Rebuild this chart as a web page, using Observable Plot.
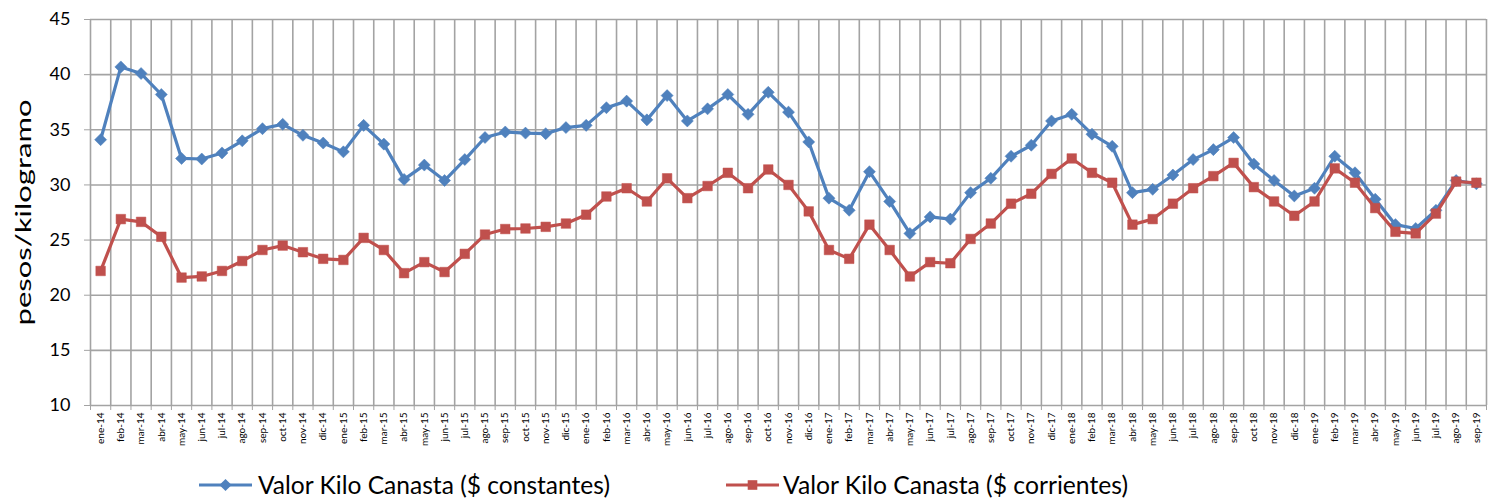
<!DOCTYPE html>
<html><head><meta charset="utf-8">
<script src="https://cdn.jsdelivr.net/npm/d3@7"></script>
<script src="https://cdn.jsdelivr.net/npm/@observablehq/plot@0.6"></script>
<style>body{margin:0;background:#fff;font-family:Lato,sans-serif}#chart svg{display:block}</style>
</head><body><div id="chart"></div><script>
const months = ["ene-14","feb-14","mar-14","abr-14","may-14","jun-14","jul-14","ago-14","sep-14","oct-14","nov-14","dic-14",
"ene-15","feb-15","mar-15","abr-15","may-15","jun-15","jul-15","ago-15","sep-15","oct-15","nov-15","dic-15",
"ene-16","feb-16","mar-16","abr-16","may-16","jun-16","jul-16","ago-16","sep-16","oct-16","nov-16","dic-16",
"ene-17","feb-17","mar-17","abr-17","may-17","jun-17","jul-17","ago-17","sep-17","oct-17","nov-17","dic-17",
"ene-18","feb-18","mar-18","abr-18","may-18","jun-18","jul-18","ago-18","sep-18","oct-18","nov-18","dic-18",
"ene-19","feb-19","mar-19","abr-19","may-19","jun-19","jul-19","ago-19","sep-19"];
const constantes = [34.1,40.7,40.1,38.2,32.4,32.35,32.9,34.0,35.1,35.5,34.5,33.8,
33.0,35.4,33.7,30.5,31.8,30.4,32.3,34.3,34.8,34.7,34.65,35.2,
35.4,37.0,37.6,35.9,38.1,35.8,36.9,38.2,36.4,38.4,36.6,33.9,
28.8,27.7,31.2,28.5,25.6,27.1,26.9,29.3,30.6,32.6,33.6,35.8,
36.4,34.6,33.5,29.3,29.6,30.9,32.3,33.2,34.3,31.9,30.4,29.0,
29.7,32.6,31.1,28.7,26.4,26.05,27.7,30.4,30.1];
const corrientes = [22.2,26.9,26.65,25.3,21.6,21.7,22.2,23.1,24.1,24.5,23.9,23.3,
23.2,25.2,24.1,22.0,23.0,22.1,23.75,25.5,26.0,26.05,26.2,26.5,
27.3,28.95,29.7,28.5,30.6,28.8,29.9,31.1,29.7,31.4,30.0,27.6,
24.1,23.3,26.4,24.1,21.7,23.0,22.9,25.1,26.5,28.3,29.2,31.0,
32.4,31.1,30.2,26.4,26.9,28.3,29.7,30.8,32.0,29.8,28.5,27.2,
28.5,31.5,30.2,27.9,25.75,25.6,27.4,30.3,30.2];
const yTicks = [10,15,20,25,30,35,40,45];
const seriesNames = ["Valor Kilo Canasta ($ constantes)","Valor Kilo Canasta ($ corrientes)"];
const colors = ["#4F81BD","#C0504D"];
const yLabel = "pesos/kilogramo";

const idx = months.map((m,i)=>i);
const boundaries = d3.range(-0.5, months.length, 1);
const dC = idx.map(i=>({i, v: constantes[i]}));
const dR = idx.map(i=>({i, v: corrientes[i]}));
const grid = "#a3a3a3";

const plot = Plot.plot({
  width: 1494, height: 458,
  marginTop: 19, marginBottom: 53, marginLeft: 90, marginRight: 8,
  style: {fontFamily: "Lato, sans-serif", background: "white", color: "#000"},
  x: {type: "linear", domain: [-0.5, months.length - 0.5]},
  y: {domain: [10, 45]},
  marks: [
    Plot.ruleY(yTicks, {stroke: grid, strokeWidth: 1.6}),
    Plot.ruleX(boundaries, {stroke: grid, strokeWidth: 1.6}),
    Plot.axisY({ticks: yTicks, tickSize: 6, tickPadding: 14, fontSize: 18, stroke: grid, label: null}),
    Plot.axisX({ticks: boundaries, tickSize: 5, tickFormat: () => "", stroke: grid, label: null}),
    Plot.axisX({ticks: idx, tickSize: 0, tickPadding: 7, tickRotate: -90, fontSize: 10, tickFormat: i => months[i], label: null}),
    Plot.text([yLabel], {frameAnchor: "left", dx: -67, rotate: -90, fontSize: 22, textAnchor: "middle", fill: "#000"}),
    Plot.line(dC, {x: "i", y: "v", stroke: colors[0], strokeWidth: 3.2}),
    Plot.dot(dC, {x: "i", y: "v", symbol: "square", r: 4.8, rotate: 45, fill: colors[0], stroke: colors[0], strokeWidth: 0.5}),
    Plot.line(dR, {x: "i", y: "v", stroke: colors[1], strokeWidth: 3.2}),
    Plot.dot(dR, {x: "i", y: "v", symbol: "square", r: 5.4, fill: colors[1], stroke: colors[1], strokeWidth: 0.5})
  ]
});
d3.select(plot).selectAll("text").filter(function(){return this.textContent === yLabel;})
  .attr("textLength", 226).attr("lengthAdjust", "spacingAndGlyphs");
document.getElementById("chart").appendChild(plot);

// legend
const leg = d3.create("svg").attr("width", 1494).attr("height", 40)
  .style("display","block").style("font-family","Lato, sans-serif");
const items = [{x0: 199, x1: 252, tx: 258, tl: 352, sym: "diamond"}, {x0: 726, x1: 779, tx: 783, tl: 345, sym: "square"}];
const ly = 27;
items.forEach((it, k) => {
  const g = leg.append("g");
  g.append("line").attr("x1", it.x0).attr("x2", it.x1).attr("y1", ly).attr("y2", ly)
    .attr("stroke", colors[k]).attr("stroke-width", 3.2);
  const cx = (it.x0 + it.x1) / 2;
  if (it.sym === "diamond") {
    g.append("rect").attr("x", cx-4.3).attr("y", ly-4.3).attr("width", 8.6).attr("height", 8.6)
      .attr("fill", colors[k]).attr("transform", `rotate(45 ${cx} ${ly})`);
  } else {
    g.append("rect").attr("x", cx-4.8).attr("y", ly-4.8).attr("width", 9.6).attr("height", 9.6).attr("fill", colors[k]);
  }
  g.append("text").attr("x", it.tx).attr("y", ly + 9).attr("font-size", 25).attr("fill", "#000")
    .attr("textLength", it.tl).attr("lengthAdjust", "spacingAndGlyphs").text(seriesNames[k]);
});
document.getElementById("chart").appendChild(leg.node());
</script></body></html>
